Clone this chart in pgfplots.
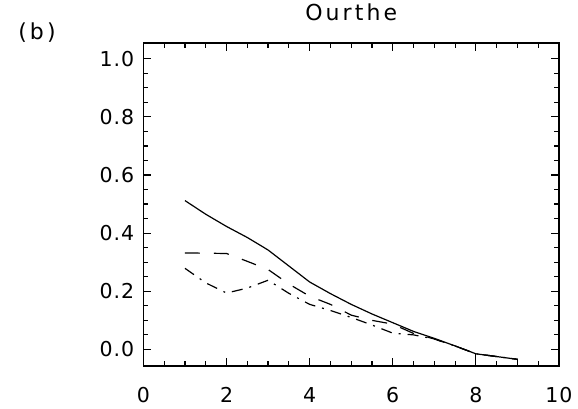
\documentclass[border=0pt]{standalone}
\usepackage{fontspec}
\setmainfont{DejaVu Sans}[LetterSpace=5]
\newfontfamily\titlefont{DejaVu Sans}[LetterSpace=14]
\usepackage{pgfplots}
\pgfplotsset{compat=1.18}
\begin{document}
\begin{tikzpicture}[x=1pt,y=1pt]
\useasboundingbox (0,0) rectangle (578,408);
\node[font=\titlefont\fontsize{22}{26}\selectfont, inner sep=0pt] at (37,375) {(b)};
\begin{axis}[
  scale only axis, width=415.6pt, height=322.7pt,
  at={(143.4pt,42pt)}, anchor=south west,
  xmin=0, xmax=10, ymin=-0.057, ymax=1.053,
  xtick={0,2,4,6,8,10}, ytick={0,0.2,0.4,0.6,0.8,1.0},
  minor x tick num=3, minor y tick num=3,
  tick align=inside, major tick length=8pt, minor tick length=5pt,
  axis line style={line width=1.8pt},
  every tick/.style={line width=1.2pt, black},
  /pgf/number format/assume math mode=true,
  yticklabel style={/pgf/number format/.cd, fixed, fixed zerofill, precision=1, /tikz/.cd,
     anchor=east, inner sep=0pt, xshift=-9pt, font=\fontsize{20.5}{24}\selectfont},
  xticklabel style={anchor=north, inner sep=0pt, yshift=-21pt, font=\fontsize{20.5}{24}\selectfont},
  title={Ourthe},
  title style={font=\titlefont\fontsize{22}{26}\selectfont, at={(0.5,1)}, anchor=center, yshift=24.8pt, inner sep=0pt},
  clip=true,
]
% solid
\addplot[black, no marks, line width=1.2pt] coordinates {(1,0.512) (1.5,0.465) (2,0.423) (2.5,0.385) (3,0.342) (3.5,0.287) (4,0.232) (4.5,0.192) (5,0.155) (5.5,0.122) (6,0.092) (6.5,0.062) (7,0.038) (7.5,0.012) (8,-0.015) (9,-0.034)};
% dashed
\addplot[black, no marks, line width=1.2pt, dash pattern=on 15pt off 14pt] coordinates {(1,0.332) (2,0.330) (2.5,0.303) (3,0.275) (3.5,0.225) (4,0.183) (4.5,0.155) (5,0.118) (5.5,0.100) (6,0.087) (6.5,0.055) (7,0.036) (7.5,0.012) (8,-0.015) (9,-0.034)};
% dash-dot
\addplot[black, no marks, line width=1.2pt, dash pattern=on 11pt off 7pt on 2pt off 7pt] coordinates {(1,0.279) (1.5,0.229) (2,0.194) (2.5,0.211) (3,0.238) (3.5,0.193) (4,0.155) (4.5,0.134) (5,0.110) (5.5,0.084) (6,0.056) (6.5,0.050) (7,0.036) (7.5,0.012) (8,-0.015) (9,-0.034)};
% vertical drops
\addplot[black, no marks, line width=1.2pt] coordinates {(8,-0.015) (8,-0.06)};
\addplot[black, no marks, line width=1.2pt] coordinates {(9,-0.034) (9,-0.06)};
\end{axis}
\end{tikzpicture}
\end{document}
